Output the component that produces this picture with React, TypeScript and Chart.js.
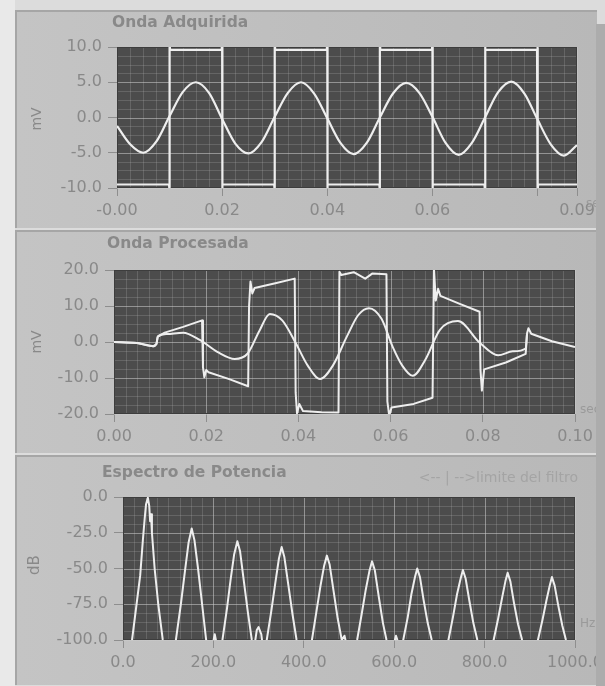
import React, { useEffect, useRef } from "react";
import { Chart, registerables } from "chart.js";

Chart.register(...registerables);

const FONT = '"DejaVu Sans", Verdana, sans-serif';
const TEXT = "#898989";
const PLOT_BG = "#4c4c4c";
const TRACE = "#eeeeee";

// ---------- Panel 1: Onda Adquirida ----------
const acqSineTime = [0, 0.0025, 0.005, 0.0075, 0.01, 0.0125, 0.015, 0.0175, 0.02, 0.0225, 0.025, 0.0275, 0.03, 0.0325, 0.035, 0.0375, 0.04, 0.0425, 0.045, 0.0475, 0.05, 0.0525, 0.055, 0.0575, 0.06, 0.0625, 0.065, 0.0675, 0.07, 0.0725, 0.075, 0.0775, 0.08, 0.0825, 0.085, 0.0875];
const acqSineMv = [-1.2, -3.8, -5.0, -3.4, 0.2, 3.6, 5.0, 3.5, -0.2, -3.7, -5.1, -3.5, 0.1, 3.5, 5.0, 3.4, -0.1, -3.6, -5.2, -3.6, 0.0, 3.4, 4.9, 3.5, 0.1, -3.6, -5.3, -3.6, 0.0, 3.6, 5.1, 3.4, -0.3, -3.8, -5.4, -3.9];
const acqSquareTime = [0, 0.0099, 0.01, 0.01, 0.0101, 0.0199, 0.02, 0.02, 0.0201, 0.0299, 0.03, 0.03, 0.0301, 0.0399, 0.04, 0.04, 0.0401, 0.0499, 0.05, 0.05, 0.0501, 0.0599, 0.06, 0.06, 0.0601, 0.0699, 0.07, 0.07, 0.0701, 0.0799, 0.08, 0.08, 0.0801, 0.0875];
const acqSquareMv = [-9.5, -9.5, -10.6, 10.6, 9.6, 9.6, 10.6, -10.6, -9.5, -9.5, -10.6, 10.6, 9.6, 9.6, 10.6, -10.6, -9.5, -9.5, -10.6, 10.6, 9.6, 9.6, 10.6, -10.6, -9.5, -9.5, -10.6, 10.6, 9.6, 9.6, 10.6, -10.6, -9.5, -9.5];
const acqXTicks = [0, 0.02, 0.04, 0.06, 0.08, 0.0875];
const acqXLabels = ["-0.00", "0.02", "0.04", "0.06", "", "0.09"];
const acqYTicks = [-10, -5, 0, 5, 10];
const acqYLabels = ["-10.0", "-5.0", "0.0", "5.0", "10.0"];

// ---------- Panel 2: Onda Procesada ----------
const procSquareTime = [0, 0.005, 0.0085, 0.0092, 0.0095, 0.011, 0.015, 0.0191, 0.0193, 0.0196, 0.02, 0.0205, 0.025, 0.0291, 0.0293, 0.0296, 0.03, 0.0305, 0.035, 0.0392, 0.0394, 0.0397, 0.0402, 0.041, 0.045, 0.0487, 0.0489, 0.0493, 0.052, 0.0545, 0.056, 0.0591, 0.0593, 0.0597, 0.0602, 0.065, 0.0691, 0.0694, 0.0698, 0.0703, 0.0708, 0.075, 0.0793, 0.0795, 0.0798, 0.0803, 0.085, 0.0893, 0.0896, 0.0899, 0.0905, 0.095, 0.1];
const procSquareMv = [0, -0.3, -1.2, -0.6, 1.5, 2.6, 4.2, 6.0, -7.0, -9.8, -7.8, -8.4, -10.3, -12.3, 10.0, 16.8, 13.5, 15.0, 16.3, 17.6, -14.0, -19.8, -17.2, -19.2, -19.5, -19.6, 19.5, 18.6, 19.4, 17.6, 19.0, 18.8, -16.5, -20.5, -18.2, -17.2, -15.5, 20.5, 11.5, 14.8, 12.8, 10.6, 8.4, -7.8, -13.5, -7.6, -5.7, -3.3, 2.4, 3.8, 2.3, 0.2, -1.4];
const procSineTime = [0, 0.005, 0.0085, 0.0092, 0.0095, 0.0115, 0.015, 0.0187, 0.0225, 0.0262, 0.029, 0.0315, 0.0338, 0.0365, 0.0395, 0.042, 0.0447, 0.0475, 0.0505, 0.053, 0.0553, 0.058, 0.0605, 0.0625, 0.0648, 0.0675, 0.0707, 0.0746, 0.0794, 0.0833, 0.0865, 0.0893, 0.0896];
const procSineMv = [0, -0.3, -1.2, -0.6, 1.5, 2.2, 2.6, 0.5, -2.8, -4.7, -3.2, 3.0, 7.8, 6.0, -0.5, -6.5, -10.3, -6.5, 1.5, 7.5, 9.4, 6.5, -1.5, -6.5, -9.4, -5.0, 3.4, 5.8, -0.3, -3.7, -2.6, -1.8, 2.4];
const procXTicks = [0, 0.02, 0.04, 0.06, 0.08, 0.1];
const procXLabels = ["0.00", "0.02", "0.04", "0.06", "0.08", "0.10"];
const procYTicks = [-20, -10, 0, 10, 20];
const procYLabels = ["-20.0", "-10.0", "0.0", "10.0", "20.0"];

// ---------- Panel 3: Espectro de Potencia ----------
const specHz = [0, 15, 20, 30, 38, 44, 48, 51, 55, 58, 60, 62, 64, 70, 78, 88, 95, 110,
  117, 128, 137, 145, 152, 158, 166, 175, 184, 190, 198, 203, 208, 214,
  220, 230, 238, 246, 253, 259, 267, 276, 285, 290, 296, 300, 306, 312,
  318, 328, 337, 345, 351, 357, 366, 375, 384, 395,
  418, 428, 437, 445, 451, 457, 466, 475, 484, 490, 495, 505,
  518, 528, 537, 545, 551, 557, 566, 575, 583, 592, 598, 604, 610, 615,
  620, 630, 638, 646, 651, 657, 665, 674, 683, 695,
  720, 730, 739, 747, 752, 758, 766, 775, 784, 795,
  820, 830, 839, 846, 851, 857, 865, 874, 883, 895,
  918, 928, 937, 944, 949, 955, 963, 972, 980, 990, 1000];
const specDb = [-115, -112, -100, -75, -55, -30, -15, -5, -0.5, -6, -17, -12, -25, -50, -75, -100, -112, -115,
  -100, -75, -52, -32, -22, -30, -50, -75, -100, -112, -104, -96, -104, -115,
  -100, -78, -58, -40, -31, -38, -58, -80, -100, -106, -93, -91, -96, -112,
  -100, -80, -60, -43, -35, -42, -62, -82, -100, -113,
  -100, -80, -62, -48, -41, -47, -66, -85, -100, -97, -104, -113,
  -100, -82, -65, -52, -45, -51, -70, -88, -100, -112, -104, -97, -103, -112,
  -100, -84, -68, -56, -50, -56, -72, -88, -100, -112,
  -100, -84, -68, -57, -51, -57, -72, -88, -100, -112,
  -100, -85, -70, -59, -53, -59, -74, -89, -100, -112,
  -100, -86, -72, -62, -56, -62, -76, -90, -100, -110, -112];
const specXTicks = [0, 200, 400, 600, 800, 1000];
const specXLabels = ["0.0", "200.0", "400.0", "600.0", "800.0", "1000.0"];
const specYTicks = [-100, -75, -50, -25, 0];
const specYLabels = ["-100.0", "-75.0", "-50.0", "-25.0", "0.0"];

type Series = { t: number[]; v: number[]; smooth: boolean; width: number };
type PanelDef = {
  top: number;
  height: number;
  plot: { left: number; top: number; right: number; bottom: number };
  xMin: number; xMax: number; xTicks: number[]; xLabels: string[]; xMinor: number;
  yMin: number; yMax: number; yTicks: number[]; yLabels: string[]; yMinor: number;
  series: Series[];
  texts: { text: string; x: number; y: number; font: string; align: CanvasTextAlign; rotate?: boolean; color?: string }[];
};

const panels: PanelDef[] = [
  {
    top: 10, height: 219,
    plot: { left: 117, top: 37, right: 577, bottom: 178 },
    xMin: 0, xMax: 0.0875, xTicks: acqXTicks, xLabels: acqXLabels, xMinor: 0.0025,
    yMin: -10, yMax: 10, yTicks: acqYTicks, yLabels: acqYLabels, yMinor: 1.25,
    series: [
      { t: acqSquareTime, v: acqSquareMv, smooth: false, width: 2.2 },
      { t: acqSineTime, v: acqSineMv, smooth: true, width: 2.2 },
    ],
    texts: [
      { text: "Onda Adquirida", x: 112, y: 13, font: `bold 15.5px ${FONT}`, align: "left" },
      { text: "mV", x: 37, y: 109, font: `14px ${FONT}`, align: "center", rotate: true },
      { text: "sec", x: 586, y: 194, font: `12px ${FONT}`, align: "left", color: "#9a9a9a" },
    ],
  },
  {
    top: 230, height: 224,
    plot: { left: 114, top: 40, right: 575, bottom: 184 },
    xMin: 0, xMax: 0.1, xTicks: procXTicks, xLabels: procXLabels, xMinor: 0.0025,
    yMin: -20, yMax: 20, yTicks: procYTicks, yLabels: procYLabels, yMinor: 2.5,
    series: [
      { t: procSquareTime, v: procSquareMv, smooth: false, width: 2 },
      { t: procSineTime, v: procSineMv, smooth: true, width: 2 },
    ],
    texts: [
      { text: "Onda Procesada", x: 107, y: 14, font: `bold 15.5px ${FONT}`, align: "left" },
      { text: "mV", x: 37, y: 112, font: `14px ${FONT}`, align: "center", rotate: true },
      { text: "sec", x: 580, y: 180, font: `12px ${FONT}`, align: "left", color: "#9a9a9a" },
    ],
  },
  {
    top: 455, height: 231,
    plot: { left: 123, top: 42, right: 575, bottom: 185 },
    xMin: 0, xMax: 1000, xTicks: specXTicks, xLabels: specXLabels, xMinor: 25,
    yMin: -100, yMax: 0, yTicks: specYTicks, yLabels: specYLabels, yMinor: 6.25,
    series: [{ t: specHz, v: specDb, smooth: false, width: 2 }],
    texts: [
      { text: "Espectro de Potencia", x: 102, y: 18, font: `bold 15.5px ${FONT}`, align: "left" },
      { text: "<-- | -->limite del filtro", x: 578, y: 23, font: `14px ${FONT}`, align: "right", color: "#a4a4a4" },
      { text: "dB", x: 35, y: 110, font: `15px ${FONT}`, align: "center", rotate: true },
      { text: "Hz", x: 580, y: 169, font: `12px ${FONT}`, align: "left", color: "#9a9a9a" },
    ],
  },
];

function LvChart({ def }: { def: PanelDef }) {
  const ref = useRef<HTMLCanvasElement>(null);
  useEffect(() => {
    const W = 605;
    const p = def.plot;
    const lvPlugin = {
      id: "lv",
      beforeDatasetsDraw(chart: any) {
        const { ctx, chartArea: a, scales } = chart;
        const xs = scales.x;
        const ys = scales.y;
        ctx.save();
        ctx.fillStyle = PLOT_BG;
        ctx.fillRect(a.left, a.top, a.right - a.left, a.bottom - a.top);
        ctx.lineWidth = 1;
        ctx.strokeStyle = "rgba(190,190,190,0.22)";
        ctx.beginPath();
        for (let v = def.xMin; v <= def.xMax + 1e-9; v += def.xMinor) {
          const px = Math.round(xs.getPixelForValue(v)) + 0.5;
          ctx.moveTo(px, a.top);
          ctx.lineTo(px, a.bottom);
        }
        for (let v = def.yMin; v <= def.yMax + 1e-9; v += def.yMinor) {
          const py = Math.round(ys.getPixelForValue(v)) + 0.5;
          ctx.moveTo(a.left, py);
          ctx.lineTo(a.right, py);
        }
        ctx.stroke();
        ctx.strokeStyle = "rgba(205,205,205,0.45)";
        ctx.beginPath();
        def.xTicks.forEach((v) => {
          const px = Math.round(xs.getPixelForValue(v)) + 0.5;
          ctx.moveTo(px, a.top);
          ctx.lineTo(px, a.bottom);
        });
        def.yTicks.forEach((v) => {
          const py = Math.round(ys.getPixelForValue(v)) + 0.5;
          ctx.moveTo(a.left, py);
          ctx.lineTo(a.right, py);
        });
        ctx.stroke();
        ctx.strokeStyle = "#3d3d3d";
        ctx.strokeRect(a.left + 0.5, a.top + 0.5, a.right - a.left - 1, a.bottom - a.top - 1);
        ctx.restore();
      },
      afterDraw(chart: any) {
        const ctx = chart.ctx;
        ctx.save();
        def.texts.forEach((t) => {
          ctx.font = t.font;
          ctx.fillStyle = t.color || TEXT;
          ctx.textAlign = t.align;
          ctx.textBaseline = "middle";
          if (t.rotate) {
            ctx.save();
            ctx.translate(t.x, t.y);
            ctx.rotate(-Math.PI / 2);
            ctx.fillText(t.text, 0, 0);
            ctx.restore();
          } else {
            ctx.fillText(t.text, t.x, t.y);
          }
        });
        ctx.restore();
      },
    };

    const chart = new Chart(ref.current!, {
      type: "line",
      data: {
        datasets: def.series.map((s) => ({
          data: s.t.map((t, i) => ({ x: t, y: s.v[i] })),
          borderColor: TRACE,
          borderWidth: s.width,
          borderJoinStyle: "round",
          pointRadius: 0,
          fill: false,
          tension: 0,
          cubicInterpolationMode: s.smooth ? "monotone" : "default",
        })),
      },
      options: {
        responsive: false,
        animation: false,
        events: [],
        layout: { padding: { left: 0, top: p.top, right: W - p.right, bottom: 0 }, autoPadding: false },
        plugins: { legend: { display: false }, tooltip: { enabled: false }, title: { display: false } },
        scales: {
          x: {
            type: "linear",
            min: def.xMin,
            max: def.xMax,
            afterBuildTicks: (s: any) => { s.ticks = def.xTicks.map((v) => ({ value: v })); },
            afterFit: (s: any) => { s.height = def.height - p.bottom; s.paddingLeft = 0; s.paddingRight = 0; },
            ticks: {
              autoSkip: false, maxRotation: 0, padding: 5,
              color: TEXT, font: { family: FONT, size: 16 },
              callback: (_v: any, i: number) => def.xLabels[i],
            },
            grid: { display: true, drawOnChartArea: false, drawTicks: true, tickLength: 8, tickColor: "#8e8e8e" },
            border: { display: false },
          },
          y: {
            type: "linear",
            min: def.yMin,
            max: def.yMax,
            afterBuildTicks: (s: any) => { s.ticks = def.yTicks.map((v) => ({ value: v })); },
            afterFit: (s: any) => { s.width = p.left; s.paddingTop = 0; s.paddingBottom = 0; },
            ticks: {
              autoSkip: false, padding: 6,
              color: TEXT, font: { family: FONT, size: 16 },
              callback: (_v: any, i: number) => def.yLabels[i],
            },
            grid: { display: true, drawOnChartArea: false, drawTicks: true, tickLength: 9, tickColor: "#8e8e8e" },
            border: { display: false },
          },
        },
      },
      plugins: [lvPlugin],
    } as any);
    return () => chart.destroy();
  }, [def]);
  return (
    <canvas
      ref={ref}
      width={605}
      height={def.height}
      style={{ position: "absolute", left: 0, top: def.top, width: 605, height: def.height, display: "block" }}
    />
  );
}

export default function App() {
  return (
    <div style={{ position: "fixed", left: 0, top: 0, width: 605, height: 686, overflow: "hidden", background: "#dcdcdc" }}>
      <div style={{ position: "absolute", left: 0, top: 0, width: 15, height: 686, background: "#e9e9e9" }} />
      {panels.map((d, i) => (
        <div
          key={"bg" + i}
          style={{
            position: "absolute",
            left: 15,
            top: d.top,
            width: 582,
            height: d.height - 1,
            background: "linear-gradient(90deg, #c4c4c4 0%, #bdbdbd 60%, #b8b8b8 100%)",
            borderTop: "2px solid #a6a6a6",
            borderLeft: "2px solid #a6a6a6",
            boxSizing: "border-box",
          }}
        />
      ))}
      {panels.map((d, i) => (
        <LvChart key={"c" + i} def={d} />
      ))}
      <div style={{ position: "absolute", left: 596, top: 24, width: 9, height: 662, background: "#acacac" }} />
    </div>
  );
}
